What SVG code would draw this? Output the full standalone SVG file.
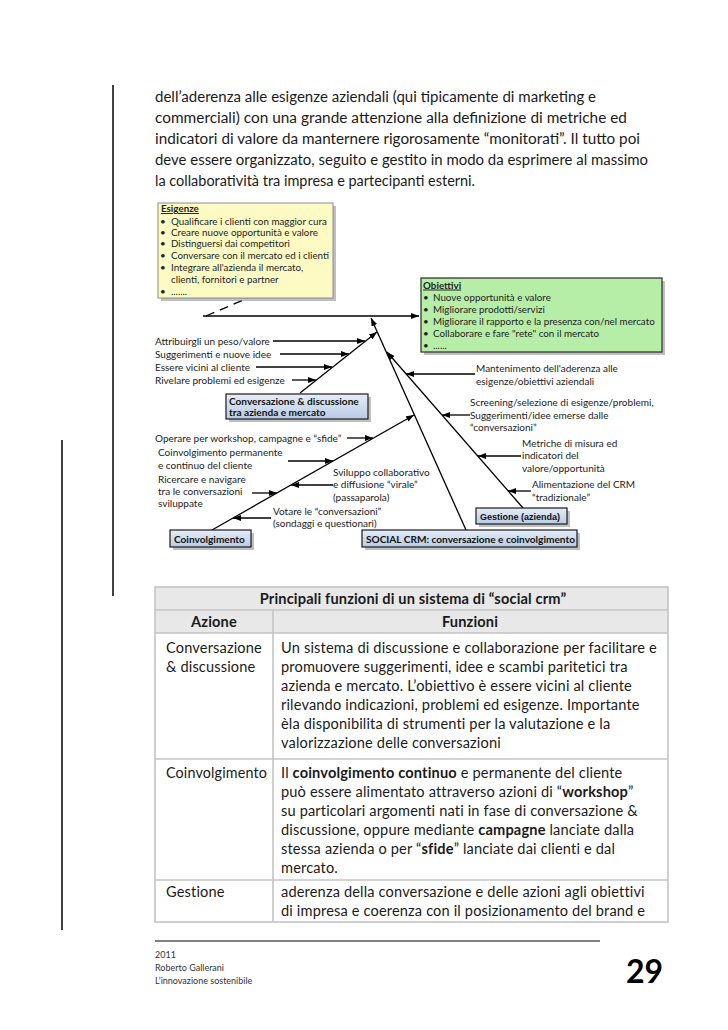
<svg xmlns="http://www.w3.org/2000/svg" width="728" height="1030" viewBox="0 0 728 1030">
<defs>
<style>
.p{font-family:Lato,"Liberation Sans",sans-serif;font-size:14.5px;fill:#1a1a1a}
.t{font-family:Lato,"Liberation Sans",sans-serif;font-size:14.6px;letter-spacing:0.15px;fill:#1a1a1a}
.d{font-family:Lato,"Liberation Sans",sans-serif;font-size:10px;fill:#222}
.bx{font-size:9.8px}
.db{font-family:Lato,"Liberation Sans",sans-serif;font-size:10.1px;font-weight:bold;fill:#111}
.ar{font-family:"Liberation Sans",Arial,sans-serif;font-size:9px;font-weight:bold;fill:#111}
.b{font-weight:bold}
.u{text-decoration:underline}
.ln{stroke:#000;stroke-width:1.3;fill:none}
.sh{fill:#8a8a8a;opacity:0.55}
.blue{fill:url(#gb);stroke:#1a1a1a;stroke-width:1.2}
.tb{stroke:#c4c4c4;stroke-width:1.6;fill:none}
.ft{font-family:Lato,"Liberation Sans",sans-serif;font-size:9px;fill:#333}
</style>
<linearGradient id="gb" x1="0" y1="0" x2="0" y2="1">
<stop offset="0" stop-color="#e6edf7"/>
<stop offset="1" stop-color="#b8cbe4"/>
</linearGradient>
<marker id="ah" markerUnits="userSpaceOnUse" markerWidth="8" markerHeight="6" refX="8" refY="3" orient="auto">
<path d="M0,0 L8,3 L0,6 z" fill="#000"/>
</marker>
</defs>
<rect width="728" height="1030" fill="#fff"/>

<!-- page margin lines -->
<line x1="113" y1="85" x2="113" y2="596" stroke="#000" stroke-width="1.5"/>
<line x1="62" y1="440" x2="62" y2="930" stroke="#000" stroke-width="1.5"/>

<!-- paragraph -->
<g id="paragraph">
<text class="p" x="155" y="102" textLength="441" lengthAdjust="spacingAndGlyphs">dell’aderenza alle esigenze aziendali (qui tipicamente di marketing e</text>
<text class="p" x="155" y="123" textLength="472" lengthAdjust="spacingAndGlyphs">commerciali)  con una grande attenzione alla definizione di metriche ed</text>
<text class="p" x="155" y="144" textLength="485" lengthAdjust="spacingAndGlyphs">indicatori di valore da manternere rigorosamente “monitorati”. Il tutto poi</text>
<text class="p" x="155" y="165" textLength="493" lengthAdjust="spacingAndGlyphs">deve essere organizzato, seguito e gestito in modo da esprimere al massimo</text>
<text class="p" x="155" y="186" textLength="320" lengthAdjust="spacingAndGlyphs">la collaboratività tra impresa e partecipanti esterni.</text>
</g>

<!-- connectors -->
<g id="connectors">
<line class="ln" x1="206" y1="316" x2="248" y2="298" stroke-dasharray="9,6" stroke-width="1.5"/>
<line class="ln" x1="203" y1="316" x2="419" y2="316" stroke-width="1.5" marker-end="url(#ah)"/>
<line class="ln" x1="466" y1="530" x2="371" y2="318" marker-end="url(#ah)"/>
<line class="ln" x1="523" y1="508" x2="387" y2="352" marker-end="url(#ah)"/>
<line class="ln" x1="300" y1="393" x2="377" y2="332" marker-end="url(#ah)"/>
<line class="ln" x1="212" y1="530" x2="414" y2="415" marker-end="url(#ah)"/>
<!-- conversazione ribs -->
<line class="ln" x1="273" y1="341" x2="365" y2="341" marker-end="url(#ah)"/>
<line class="ln" x1="280" y1="354" x2="349" y2="354" marker-end="url(#ah)"/>
<line class="ln" x1="256" y1="367" x2="332" y2="367" marker-end="url(#ah)"/>
<line class="ln" x1="292" y1="380" x2="316" y2="380" marker-end="url(#ah)"/>
<!-- coinvolgimento ribs -->
<line class="ln" x1="347" y1="438" x2="373" y2="438" marker-end="url(#ah)"/>
<line class="ln" x1="288" y1="461" x2="333" y2="461" marker-end="url(#ah)"/>
<line class="ln" x1="252" y1="493" x2="277" y2="493" marker-end="url(#ah)"/>
<line class="ln" x1="333" y1="485" x2="291" y2="485" marker-end="url(#ah)"/>
<line class="ln" x1="271" y1="518" x2="233" y2="518" marker-end="url(#ah)"/>
<!-- gestione ribs -->
<line class="ln" x1="475" y1="374" x2="406" y2="374" marker-end="url(#ah)"/>
<line class="ln" x1="470" y1="415" x2="442" y2="415" marker-end="url(#ah)"/>
<line class="ln" x1="521" y1="456" x2="478" y2="456" marker-end="url(#ah)"/>
<line class="ln" x1="531" y1="491" x2="508" y2="491" marker-end="url(#ah)"/>
</g>

<!-- nodes -->
<g id="esigenze">
<rect class="sh" x="161" y="206" width="175" height="95"/>
<rect x="158" y="203" width="175" height="95" fill="#fdfbc3" stroke="#8c8c8c" stroke-width="1"/>
<text class="d bx b u" x="161" y="212">Esigenze</text>
<text class="d bx" x="160" y="224.5">•</text><text class="d bx" x="171" y="224.5">Qualificare i clienti con maggior cura</text>
<text class="d bx" x="160" y="236">•</text><text class="d bx" x="171" y="236">Creare nuove opportunità e valore</text>
<text class="d bx" x="160" y="247">•</text><text class="d bx" x="171" y="247">Distinguersi dai competitori</text>
<text class="d bx" x="160" y="259">•</text><text class="d bx" x="171" y="259">Conversare con il mercato ed i clienti</text>
<text class="d bx" x="160" y="271">•</text><text class="d bx" x="171" y="271">Integrare all'azienda il mercato,</text>
<text class="d bx" x="171" y="282.5">clienti, fornitori e partner</text>
<text class="d bx" x="160" y="295">•</text><text class="d bx" x="171" y="295">.......</text>
</g>

<g id="obiettivi">
<rect class="sh" x="424" y="281" width="241" height="74"/>
<rect x="421" y="278" width="241" height="74" fill="#b6eea7" stroke="#2a2a2a" stroke-width="1.2"/>
<text class="d bx b u" x="423" y="288.5">Obiettivi</text>
<text class="d bx" x="423" y="300.5">•</text><text class="d bx" x="433" y="300.5">Nuove opportunità e valore</text>
<text class="d bx" x="423" y="312.5">•</text><text class="d bx" x="433" y="312.5">Migliorare prodotti/servizi</text>
<text class="d bx" x="423" y="324.5">•</text><text class="d bx" x="433" y="324.5">Migliorare il rapporto e la presenza con/nel mercato</text>
<text class="d bx" x="423" y="336.5">•</text><text class="d bx" x="433" y="336.5">Collaborare e fare "rete" con il mercato</text>
<text class="d bx" x="423" y="348.5">•</text><text class="d bx" x="433" y="348.5">......</text>
</g>

<g id="conversazione">
<rect class="sh" x="229" y="397" width="142" height="25"/>
<rect class="blue" x="226" y="394" width="142" height="25"/>
<text class="db" x="229" y="404.5">Conversazione &amp; discussione</text>
<text class="db" x="229" y="416">tra azienda e mercato</text>
</g>

<g id="coinvolgimento">
<rect class="sh" x="173" y="533" width="81" height="17"/>
<rect class="blue" x="170" y="530" width="81" height="17"/>
<text class="db" x="174" y="542.5">Coinvolgimento</text>
</g>

<g id="gestione">
<rect class="sh" x="479" y="511" width="91" height="16"/>
<rect class="blue" x="476" y="508" width="91" height="16"/>
<text class="ar" x="480" y="519.5">Gestione (azienda)</text>
</g>

<g id="social-crm">
<rect class="sh" x="365" y="533" width="215" height="17"/>
<rect class="blue" x="362" y="530" width="215" height="17"/>
<text class="db" x="366" y="542.5">SOCIAL CRM: conversazione e coinvolgimento</text>
</g>

<!-- rib labels -->
<g id="labels">
<text class="d" x="155" y="344.5">Attribuirgli un peso/valore</text>
<text class="d" x="155" y="357.5">Suggerimenti e nuove idee</text>
<text class="d" x="155" y="370.5">Essere vicini al cliente</text>
<text class="d" x="155" y="383.5">Rivelare problemi ed esigenze</text>
<text class="d" x="155" y="441.5">Operare per workshop, campagne e “sfide”</text>
<text class="d" x="158" y="455.5">Coinvolgimento permanente</text>
<text class="d" x="158" y="468.5">e continuo del cliente</text>
<text class="d" x="158" y="482.5">Ricercare e navigare</text>
<text class="d" x="158" y="494.5">tra le conversazioni</text>
<text class="d" x="158" y="506.5">sviluppate</text>
<text class="d" x="333" y="475.5">Sviluppo collaborativo</text>
<text class="d" x="333" y="488">e diffusione “virale”</text>
<text class="d" x="333" y="500.5">(passaparola)</text>
<text class="d" x="273" y="514.5">Votare le “conversazioni”</text>
<text class="d" x="273" y="527">(sondaggi e questionari)</text>
<text class="d" x="476" y="372">Mantenimento dell'aderenza alle</text>
<text class="d" x="476" y="384.5">esigenze/obiettivi aziendali</text>
<text class="d" x="470" y="406">Screening/selezione di esigenze/problemi,</text>
<text class="d" x="470" y="418.5">Suggerimenti/idee emerse dalle</text>
<text class="d" x="470" y="431">“conversazioni”</text>
<text class="d" x="522" y="446.5">Metriche di misura ed</text>
<text class="d" x="522" y="459">indicatori del</text>
<text class="d" x="522" y="471.5">valore/opportunità</text>
<text class="d" x="532" y="488">Alimentazione del CRM</text>
<text class="d" x="532" y="500.5">“tradizionale”</text>
</g>

<!-- table -->
<g id="table">
<rect x="155" y="587" width="513" height="46" fill="#e8e8e8"/>
<rect class="tb" x="155" y="587" width="513" height="335"/>
<line class="tb" x1="155" y1="610" x2="668" y2="610"/>
<line class="tb" x1="155" y1="633" x2="668" y2="633"/>
<line class="tb" x1="155" y1="759" x2="668" y2="759"/>
<line class="tb" x1="155" y1="880" x2="668" y2="880"/>
<line class="tb" x1="273" y1="610" x2="273" y2="922"/>
<text class="t b" x="413" y="604" text-anchor="middle">Principali funzioni di un sistema di “social crm”</text>
<text class="t b" x="214" y="627" text-anchor="middle">Azione</text>
<text class="t b" x="470" y="627" text-anchor="middle">Funzioni</text>
<text class="t" x="166" y="653">Conversazione</text>
<text class="t" x="166" y="672">&amp; discussione</text>
<text class="t" x="281" y="653" textLength="376" lengthAdjust="spacingAndGlyphs">Un sistema di discussione e collaborazione per facilitare e</text>
<text class="t" x="281" y="672">promuovere suggerimenti, idee e scambi paritetici tra</text>
<text class="t" x="281" y="691">azienda e mercato. L’obiettivo  è essere vicini al cliente</text>
<text class="t" x="281" y="710">rilevando  indicazioni, problemi ed esigenze. Importante</text>
<text class="t" x="281" y="729">èla disponibilita di strumenti per la valutazione e la</text>
<text class="t" x="281" y="748">valorizzazione delle conversazioni</text>
<text class="t" x="166" y="778" textLength="101" lengthAdjust="spacingAndGlyphs">Coinvolgimento</text>
<text class="t" x="281" y="778">Il <tspan class="b">coinvolgimento continuo</tspan> e permanente del cliente</text>
<text class="t" x="281" y="797">può essere alimentato attraverso azioni di “<tspan class="b">workshop</tspan>”</text>
<text class="t" x="281" y="816">su particolari argomenti  nati in fase di conversazione &amp;</text>
<text class="t" x="281" y="835">discussione, oppure mediante <tspan class="b">campagne</tspan> lanciate dalla</text>
<text class="t" x="281" y="854">stessa azienda o per “<tspan class="b">sfide</tspan>” lanciate dai clienti e dal</text>
<text class="t" x="281" y="873">mercato.</text>
<text class="t" x="166" y="897">Gestione</text>
<text class="t" x="281" y="897">aderenza della conversazione e delle azioni agli obiettivi</text>
<text class="t" x="281" y="916">di impresa e coerenza con il posizionamento del brand  e</text>
</g>

<!-- footer -->
<g id="footer">
<line x1="155" y1="941" x2="600" y2="941" stroke="#000" stroke-width="1"/>
<text class="ft" x="155" y="958">2011</text>
<text class="ft" x="155" y="971">Roberto Gallerani</text>
<text class="ft" x="155" y="984">L’innovazione sostenibile</text>
<text x="626" y="983" font-family="Lato,'Liberation Sans',sans-serif" font-size="32" font-weight="bold" fill="#000">29</text>
</g>
</svg>
